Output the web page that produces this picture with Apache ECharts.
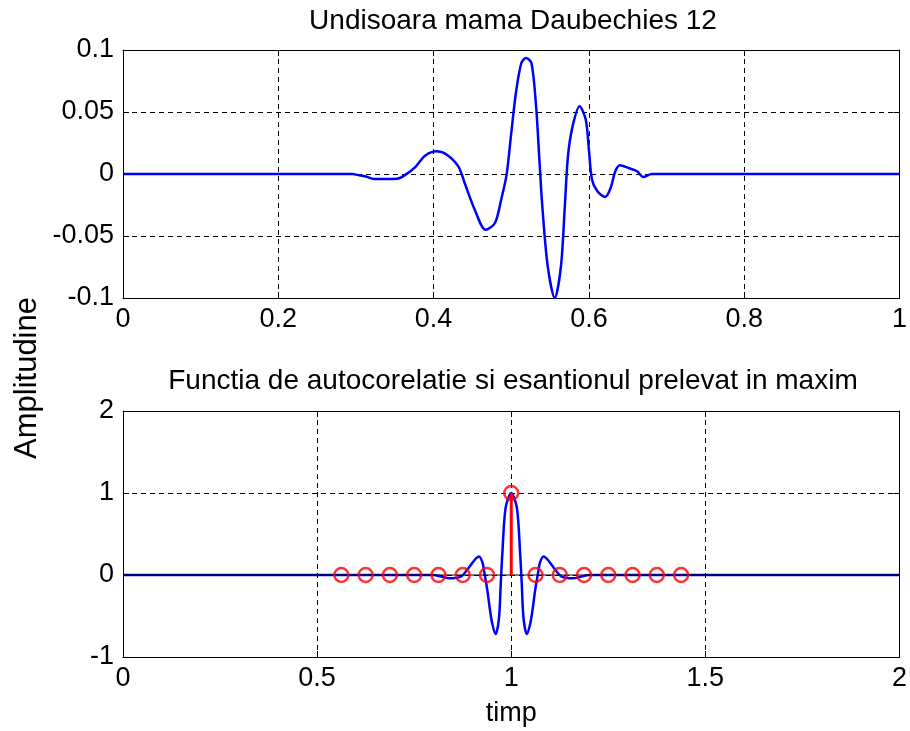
<!DOCTYPE html>
<html>
<head>
<meta charset="utf-8">
<script src="https://cdn.jsdelivr.net/npm/echarts@6/dist/echarts.min.js"></script>
<style>
html,body{margin:0;padding:0;background:#fff;}
#chart{width:910px;height:731px;}
</style>
</head>
<body>
<div id="chart"></div>
<script>
// ---- Data ----
const topTitle = 'Undisoara mama Daubechies 12';
const bottomTitle = 'Functia de autocorelatie si esantionul prelevat in maxim';
const yLabel = 'Amplitudine';
const xLabel = 'timp';

// Top: Daubechies 12 mother wavelet (time, amplitude)
const waveT = [0, 0.296, 0.300, 0.313, 0.323, 0.338, 0.353, 0.364, 0.377, 0.389, 0.404, 0.417, 0.432, 0.440,
  0.453, 0.467, 0.479, 0.487, 0.494, 0.500, 0.506, 0.513, 0.519, 0.526, 0.532, 0.536, 0.540, 0.547,
  0.556, 0.564, 0.569, 0.573, 0.579, 0.588, 0.596, 0.600, 0.604, 0.611, 0.621, 0.628, 0.634, 0.640,
  0.651, 0.662, 0.670, 0.681, 1];
const waveV = [0, 0, -0.0005, -0.002, -0.004, -0.004, -0.0038, -0.0005, 0.006, 0.0148, 0.0183, 0.0156, 0.006, -0.0073,
  -0.0288, -0.045, -0.0395, -0.0207, -0.0005, 0.033, 0.0653, 0.0895, 0.0935, 0.0895, 0.0546, 0.0142, -0.026, -0.0745,
  -0.1, -0.0745, -0.026, 0.0142, 0.0384, 0.0546, 0.0438, 0.0196, -0.0046, -0.014, -0.0185, -0.0113, 0.0022, 0.007,
  0.0048, 0.0022, -0.0024, 0, 0];

// Bottom: autocorrelation function
const acT = [0, 0.80, 0.82, 0.84, 0.87, 0.8875, 0.905, 0.917, 0.926, 0.930, 0.9386, 0.945, 0.9514, 0.960, 0.9685,
  0.973, 0.977, 0.9855, 1.0, 1.0145, 1.023, 1.027, 1.0315, 1.040, 1.0486, 1.055, 1.0614, 1.070, 1.074,
  1.083, 1.095, 1.1125, 1.13, 1.16, 1.20, 2];
const acV = [0, 0, -0.02, -0.04, -0.02, 0.07, 0.18, 0.225, 0.15, 0.05, -0.19, -0.42, -0.6, -0.72, -0.52,
  -0.1, 0.256, 0.82, 1.0, 0.82, 0.256, -0.1, -0.52, -0.72, -0.6, -0.42, -0.19, 0.05, 0.15,
  0.225, 0.18, 0.07, -0.02, -0.04, 0, 0];

// Samples taken (stems)
const stemT = [0.5625, 0.625, 0.6875, 0.75, 0.8125, 0.875, 0.9375, 1.0, 1.0625, 1.125, 1.1875, 1.25, 1.3125, 1.375, 1.4375];
const stemV = [0, 0, 0, 0, 0, 0, 0, 1, 0, 0, 0, 0, 0, 0, 0];

// Tick labels
const topXTicks = ['0', '0.2', '0.4', '0.6', '0.8', '1'];
const topYTicks = ['-0.1', '-0.05', '0', '0.05', '0.1'];
const botXTicks = ['0', '0.5', '1', '1.5', '2'];
const botYTicks = ['-1', '0', '1', '2'];

// ---- Chart ----
const FONT = "'Liberation Sans', Arial, sans-serif";
const BLUE = '#0000ff';
const RED = '#ff0000';

function lookup(list) {
  return function (v) {
    for (const s of list) { if (Math.abs(parseFloat(s) - v) < 1e-9) return s; }
    return '';
  };
}
const labelStyle = { fontFamily: FONT, fontSize: 27, color: '#000' };
const gridSplit = { show: true, lineStyle: { color: '#000', width: 1, type: [5, 4] } };
const lineAx = { show: true, onZero: false, lineStyle: { color: '#000', width: 1 } };
const tickIn = { show: true, inside: true, length: 6, lineStyle: { color: '#000' } };

function xAx(gi, min, max, interval, ticks, pos, extra) {
  return Object.assign({
    type: 'value', gridIndex: gi, min, max, interval, position: pos,
    axisLine: lineAx, axisTick: tickIn,
    axisLabel: pos === 'bottom' ? Object.assign({ margin: 8, formatter: lookup(ticks), showMinLabel: true, showMaxLabel: true }, labelStyle) : { show: false },
    splitLine: pos === 'bottom' ? gridSplit : { show: false }
  }, extra || {});
}
function yAx(gi, min, max, interval, ticks, pos) {
  return {
    type: 'value', gridIndex: gi, min, max, interval, position: pos,
    axisLine: lineAx, axisTick: tickIn,
    axisLabel: pos === 'left' ? Object.assign({ margin: 9, formatter: lookup(ticks), showMinLabel: true, showMaxLabel: true }, labelStyle) : { show: false },
    splitLine: pos === 'left' ? gridSplit : { show: false }
  };
}

const chart = echarts.init(document.getElementById('chart'), null, { renderer: 'canvas' });
chart.setOption({
  animation: false,
  backgroundColor: '#fff',
  grid: [
    { left: 123, right: 5, top: 50, height: 248 },
    { left: 123, right: 5, top: 411, height: 246 }
  ],
  xAxis: [
    xAx(0, 0, 1, 0.2, topXTicks, 'bottom'),
    xAx(0, 0, 1, 0.2, topXTicks, 'top'),
    xAx(1, 0, 2, 0.5, botXTicks, 'bottom', {
      name: xLabel, nameLocation: 'middle', nameGap: 43,
      nameTextStyle: { fontFamily: FONT, fontSize: 27, color: '#000' }
    }),
    xAx(1, 0, 2, 0.5, botXTicks, 'top')
  ],
  yAxis: [
    yAx(0, -0.1, 0.1, 0.05, topYTicks, 'left'),
    yAx(0, -0.1, 0.1, 0.05, topYTicks, 'right'),
    yAx(1, -1, 2, 1, botYTicks, 'left'),
    yAx(1, -1, 2, 1, botYTicks, 'right')
  ],
  graphic: [
    { type: 'text', x: 513, y: 21,
      style: { text: topTitle, font: "28px 'Liberation Sans', Arial, sans-serif", fill: '#000',
        textAlign: 'center', textVerticalAlign: 'middle' } },
    { type: 'text', x: 513, y: 381,
      style: { text: bottomTitle, font: "28px 'Liberation Sans', Arial, sans-serif", fill: '#000',
        textAlign: 'center', textVerticalAlign: 'middle' } },
    { type: 'text', x: 27, y: 378, rotation: Math.PI / 2,
      style: { text: yLabel, font: "31px 'Liberation Sans', Arial, sans-serif", fill: '#000',
        textAlign: 'center', textVerticalAlign: 'middle' } }
  ],
  series: [
    { type: 'line', xAxisIndex: 0, yAxisIndex: 0, data: waveT.map((t, i) => [t, waveV[i]]),
      showSymbol: false, smooth: 0.3, clip: true, z: 2,
      lineStyle: { color: BLUE, width: 2.5 } },
    { type: 'line', xAxisIndex: 2, yAxisIndex: 2, data: acT.map((t, i) => [t, acV[i]]),
      showSymbol: false, smooth: 0.3, clip: true, z: 2,
      lineStyle: { color: BLUE, width: 2.5 } },
    { type: 'line', xAxisIndex: 2, yAxisIndex: 2, data: [[0, 0], [2, 0]],
      showSymbol: false, z: 3, lineStyle: { color: '#000', width: 1 } },
    { type: 'bar', xAxisIndex: 2, yAxisIndex: 2, data: stemT.map((t, i) => [t, stemV[i]]),
      barWidth: 3, z: 4, itemStyle: { color: RED } },
    { type: 'scatter', xAxisIndex: 2, yAxisIndex: 2, data: stemT.map((t, i) => [t, stemV[i]]),
      symbol: 'circle', symbolSize: 14, z: 5,
      itemStyle: { color: 'rgba(0,0,0,0)', borderColor: RED, borderWidth: 2.5 } }
  ]
});
</script>
</body>
</html>
